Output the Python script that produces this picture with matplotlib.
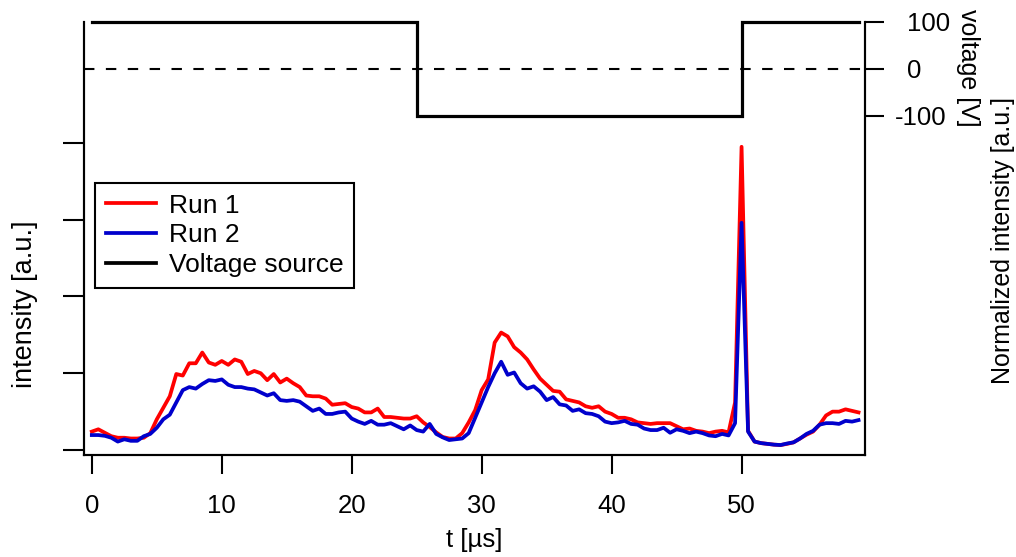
import numpy as np
import matplotlib
matplotlib.use("Agg")
import matplotlib.pyplot as plt
from matplotlib.transforms import offset_copy

plt.rcParams['font.family'] = ['Liberation Sans', 'DejaVu Sans']
plt.rcParams['axes.unicode_minus'] = False

# sampled every 0.5 us from 0 to 59 us
t = np.arange(119) * 0.5

run1 = [0.24, 0.27, 0.225, 0.18, 0.16, 0.16, 0.15, 0.15, 0.16, 0.22,
        0.40, 0.55, 0.70, 0.99, 0.97, 1.13, 1.13, 1.27, 1.14, 1.11,
        1.16, 1.11, 1.18, 1.15, 0.99, 1.03, 1.00, 0.91, 0.99, 0.88,
        0.93, 0.87, 0.82, 0.71, 0.70, 0.70, 0.67, 0.59, 0.60, 0.61,
        0.56, 0.54, 0.49, 0.49, 0.54, 0.43, 0.43, 0.42, 0.41, 0.41,
        0.44, 0.36, 0.30, 0.23, 0.17, 0.15, 0.15, 0.22, 0.36, 0.52,
        0.78, 0.92, 1.40, 1.53, 1.48, 1.34, 1.27, 1.18, 1.05, 0.93,
        0.85, 0.77, 0.76, 0.66, 0.64, 0.62, 0.57, 0.55, 0.57, 0.50,
        0.47, 0.42, 0.42, 0.40, 0.36, 0.35, 0.34, 0.35, 0.35, 0.35,
        0.31, 0.27, 0.28, 0.25, 0.24, 0.22, 0.24, 0.25, 0.23, 0.62,
        3.95, 0.25, 0.11, 0.09, 0.08, 0.07, 0.065, 0.08, 0.10, 0.15,
        0.20, 0.24, 0.33, 0.45, 0.50, 0.50, 0.53, 0.51, 0.49]

run2 = [0.195, 0.195, 0.185, 0.16, 0.11, 0.14, 0.12, 0.12, 0.18, 0.21,
        0.29, 0.40, 0.46, 0.62, 0.78, 0.82, 0.80, 0.86, 0.91, 0.90,
        0.92, 0.85, 0.82, 0.82, 0.80, 0.79, 0.75, 0.71, 0.74, 0.65,
        0.64, 0.65, 0.63, 0.57, 0.51, 0.54, 0.47, 0.47, 0.49, 0.50,
        0.41, 0.37, 0.34, 0.38, 0.33, 0.33, 0.35, 0.31, 0.27, 0.32,
        0.26, 0.24, 0.34, 0.21, 0.165, 0.13, 0.14, 0.15, 0.22, 0.42,
        0.62, 0.82, 1.00, 1.15, 0.98, 1.01, 0.87, 0.80, 0.83, 0.76,
        0.65, 0.69, 0.595, 0.58, 0.51, 0.53, 0.48, 0.47, 0.44, 0.37,
        0.35, 0.36, 0.38, 0.34, 0.33, 0.28, 0.26, 0.26, 0.29, 0.225,
        0.27, 0.25, 0.22, 0.24, 0.22, 0.19, 0.18, 0.21, 0.19, 0.35,
        2.96, 0.24, 0.11, 0.09, 0.08, 0.07, 0.065, 0.085, 0.10, 0.15,
        0.21, 0.25, 0.33, 0.35, 0.35, 0.34, 0.38, 0.37, 0.39]

# voltage source: switching times and levels
volt_t = [0, 25, 50, 59]
volt_v = [100, -100, 100, 100]

fig = plt.figure(figsize=(10.16, 5.57), dpi=100)
ax = fig.add_axes([0.0827, 0.1831, 0.7687, 0.778])
ax2 = ax.twinx()

ax.plot(t, run1, color='#ff0000', lw=2.7, label='Run 1', zorder=3)
ax.plot(t, run2, color='#0000cc', lw=2.7, label='Run 2', zorder=4)

ax2.axhline(0, color='black', lw=1.5, dashes=(5, 5.5))
ax2.step(volt_t, volt_v, where='post', color='black', lw=2.3,
         clip_on=False, solid_joinstyle='miter')
# legend entry for voltage line lives on ax
ax.plot([], [], color='black', lw=2.7, label='Voltage source')

ax.set_xlim(-0.6, 59.5)
ax.set_ylim(-0.065, 5.58)
ax2.set_ylim(-819, 100)

for a in (ax, ax2):
    a.spines['top'].set_visible(False)
    for s in ('left', 'right', 'bottom'):
        a.spines[s].set_linewidth(1.5)

ax.set_xticks([0, 10, 20, 30, 40, 50])
ax.set_yticks([0, 1, 2, 3, 4])
ax.set_yticklabels([])
ax.tick_params(axis='x', direction='out', length=14, width=1.5, pad=14,
               labelsize=18.5)
ax.tick_params(axis='y', direction='out', length=15, width=1.5)

ax2.set_yticks([100, 0, -100])
ax2.set_yticklabels(['100', '0', '-100'])
ax2.tick_params(axis='y', direction='out', length=14, width=1.5, pad=16,
                labelsize=18.5)
for lab in ax2.get_yticklabels():
    if lab.get_text().startswith('-'):
        lab.set_transform(offset_copy(lab.get_transform(), fig=fig,
                                      x=-12, units='dots'))

ax.set_xlabel('t [µs]', fontsize=18.5, va='center')
ax.xaxis.set_label_coords(0.5, -0.197)
ax.set_ylabel('intensity [a.u.]', fontsize=19.5, va='center')
ax.yaxis.set_label_coords(-0.0755, 0.3485)

fig.text(968 / 1016, 1 - 68 / 557, 'voltage [V]', rotation=-90,
         ha='center', va='center', fontsize=18)
fig.text(1003 / 1016, 1 - 240 / 557, 'Normalized intensity [a.u.]',
         rotation=90, ha='center', va='center', fontsize=18)

leg = ax.legend(loc='upper left', bbox_to_anchor=(95 / 1016, 1 - 183 / 557),
                bbox_transform=fig.transFigure, borderaxespad=0,
                fontsize=19, fancybox=False, framealpha=1,
                edgecolor='black', handlelength=1.9, handletextpad=0.5,
                labelspacing=0.22, borderpad=0.4)
leg.get_frame().set_linewidth(1.5)

fig.savefig('out.png', dpi=100)
